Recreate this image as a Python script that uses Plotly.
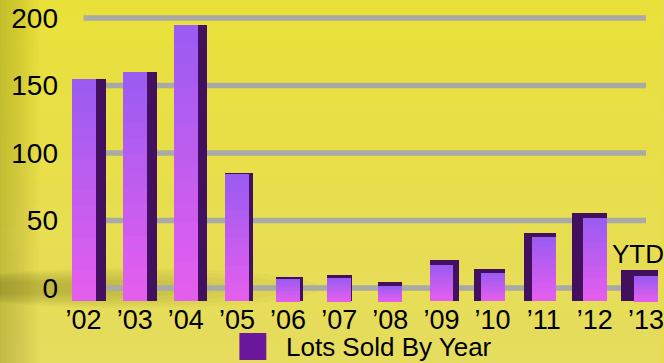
import plotly.graph_objects as go

# ---------------- data ----------------
years = ["\u201902", "\u201903", "\u201904", "\u201905", "\u201906", "\u201907",
         "\u201908", "\u201909", "\u201910", "\u201911", "\u201912", "\u201913"]
lots_sold = [155, 160, 194, 87, 11, 12, 6, 21, 15, 41, 55, 13]
y_ticks = [0, 50, 100, 150, 200]
y_tick_labels = ["0", "50", "100", "150", "200"]
series_name = "Lots Sold By Year"
last_note = "YTD"

# ---------------- style ----------------
FONT = "Liberation Sans, Arial, Helvetica, sans-serif"
BG = "#e7df48"
BG_TOP = (0xe9, 0xe1, 0x3a)
BG_BOT = (0xe6, 0xdc, 0x5e)
GRID = "#a9a9a5"
DARK = "#42105f"
TOP_COL = (0x9c, 0x5c, 0xf2)
BOT_COL = (0xe4, 0x5e, 0xee)

W, H = 664, 363
ML, MR, MT, MB = 58, 0, 10, 61
plot_w = W - ML - MR
plot_h = H - MT - MB
cat_px = 51.3                      # pixels per category
y2_px = 1.385                      # pixels per unit on the front axis
front_w = 24 / cat_px
side_px = [11, 10, 9, 4, 3, 1, 0, 6, 7, 8, 11, 13]
side_on_right = [True] * 8 + [False] * 4
roof_px = [1, 1, 1, 1, 2, 3, 4, 5, 5, 5, 5, 6]
BASE = -5
N_SEG = 14


def px_x(p):
    return (p - ML) / plot_w


def px_y(p):
    return (MT + plot_h - p) / plot_h


fig = go.Figure()

# dark side/roof block behind each bar
dark_w = [front_w + s / cat_px for s in side_px]
dark_off = [(-front_w / 2) if r else (-front_w / 2 - s / cat_px)
            for s, r in zip(side_px, side_on_right)]
dark_h = [v - BASE + rp / y2_px for v, rp in zip(lots_sold, roof_px)]
fig.add_trace(go.Bar(x=years, y=dark_h, base=[BASE] * len(years),
                     width=dark_w, offset=dark_off, yaxis="y2",
                     marker=dict(color=DARK, line=dict(width=0)),
                     showlegend=False, hoverinfo="skip"))

# front faces with vertical gradient (stacked slices)
for k in range(N_SEG):
    t = k / (N_SEG - 1)
    col = "rgb(%d,%d,%d)" % tuple(round(b + (a - b) * t) for a, b in zip(TOP_COL, BOT_COL))
    seg_h = [(v - BASE) / N_SEG for v in lots_sold]
    seg_b = [BASE + (v - BASE) * k / N_SEG for v in lots_sold]
    fig.add_trace(go.Bar(x=years, y=[h * 1.02 for h in seg_h], base=seg_b,
                         width=front_w, offset=-front_w / 2, yaxis="y2",
                         marker=dict(color=col, line=dict(width=0)),
                         showlegend=False, hoverinfo="skip",
                         name=series_name))

shapes = []
# background: soft vertical gradient
N_BG = 16
for k in range(N_BG):
    t = k / (N_BG - 1)
    col = "rgb(%d,%d,%d)" % tuple(round(a + (b - a) * t) for a, b in zip(BG_TOP, BG_BOT))
    shapes.append(dict(type="rect", xref="paper", yref="paper",
                       x0=px_x(0), x1=px_x(W),
                       y0=px_y(H * (k + 1) / N_BG + 1), y1=px_y(H * k / N_BG),
                       fillcolor=col, line=dict(width=0), layer="below"))
# darker left edge (soft)
for wpx in range(3, 40, 3):
    shapes.append(dict(type="rect", xref="paper", yref="paper",
                       x0=px_x(0), x1=px_x(wpx), y0=px_y(H), y1=px_y(0),
                       fillcolor="rgba(110,100,0,0.018)", line=dict(width=0), layer="below"))
# floor shadow on the left (stacked soft ellipses)
for i in range(8):
    rx = 190 - i * 16
    ry = 20 - i * 2
    shapes.append(dict(type="circle", xref="paper", yref="paper",
                       x0=px_x(-60), x1=px_x(-60 + 2 * rx),
                       y0=px_y(288 + ry), y1=px_y(288 - ry),
                       fillcolor="rgba(70,60,0,0.03)", line=dict(width=0), layer="below"))

# gridlines (back plane)
for t in y_ticks:
    shapes.append(dict(type="line", xref="x", yref="y", x0=0, x1=len(years) - 1,
                       y0=t, y1=t, line=dict(color=GRID, width=5.5), layer="below"))

# legend swatch
shapes.append(dict(type="rect", xref="paper", yref="paper",
                   x0=px_x(240), x1=px_x(267), y0=px_y(360), y1=px_y(333),
                   fillcolor="#6c189c", line=dict(width=0)))

annotations = [
    dict(x=px_x(285), y=px_y(347), xref="paper", yref="paper", text=series_name,
         showarrow=False, xanchor="left", yanchor="middle",
         font=dict(family=FONT, size=26, color="#000")),
    dict(x=years[-1], y=lots_sold[-1], xref="x", yref="y2", text=last_note,
         showarrow=False, xanchor="center", yanchor="bottom", xshift=-8, yshift=5,
         font=dict(family=FONT, size=26, color="#000")),
]

y_lo = -(MT + plot_h - 288) / 1.35
y_hi = 200 + (18 - MT) / 1.35
y2_lo = -(MT + plot_h - 294.3) / y2_px
y2_hi = (294.3 - MT) / y2_px

fig.update_layout(
    width=W, height=H,
    margin=dict(l=ML, r=MR, t=MT, b=MB),
    paper_bgcolor=BG, plot_bgcolor="rgba(0,0,0,0)",
    barmode="overlay",
    bargap=0,
    showlegend=False,
    shapes=shapes,
    annotations=annotations,
    font=dict(family=FONT, color="#000"),
    xaxis=dict(type="category", range=[-0.5, -0.5 + plot_w / cat_px],
               showgrid=False, zeroline=False, showline=False,
               ticks="", ticklabelstandoff=-1,
               tickfont=dict(size=27, family=FONT, color="#000")),
    yaxis=dict(range=[y_lo, y_hi], tickvals=y_ticks, ticktext=y_tick_labels,
               showgrid=False, zeroline=False, showline=False,
               ticks="", ticklabelstandoff=-1,
               tickfont=dict(size=28, family=FONT, color="#000")),
    yaxis2=dict(range=[y2_lo, y2_hi], overlaying="y", visible=False),
)

fig.write_html("out.html", config={"displayModeBar": False},
               post_script="document.body.style.margin='0';document.body.style.overflow='hidden';document.body.style.background='%s';" % BG)
